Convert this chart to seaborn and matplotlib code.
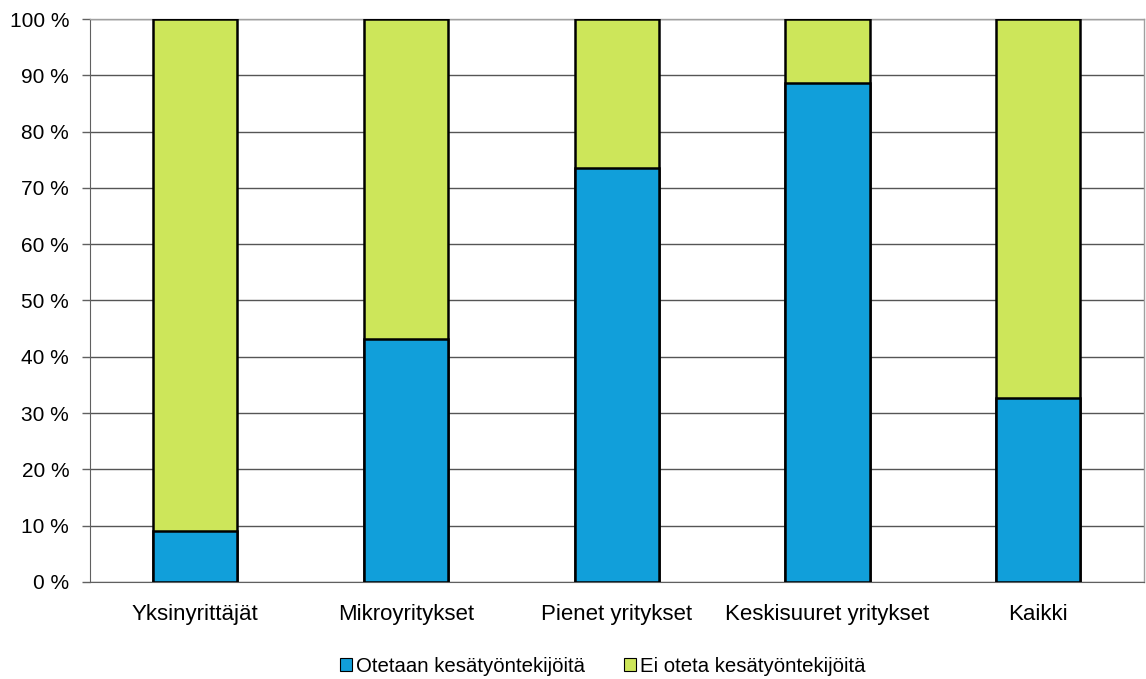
import matplotlib
matplotlib.use("Agg")
import matplotlib.pyplot as plt
import seaborn as sns
import pandas as pd
from matplotlib.patches import Patch

categories = ["Yksinyrittäjät", "Mikroyritykset", "Pienet yritykset", "Keskisuuret yritykset", "Kaikki"]
otetaan = [9.0, 43.2, 73.6, 88.7, 32.7]
ei_oteta = [100 - v for v in otetaan]
series_names = ["Otetaan kesätyöntekijöitä", "Ei oteta kesätyöntekijöitä"]
yticks = [0, 10, 20, 30, 40, 50, 60, 70, 80, 90, 100]
ytick_labels = [f"{t} %" for t in yticks]

blue = "#119fda"
green = "#cde65a"

sns.set_style("white")
plt.rcParams['font.family'] = ['Liberation Sans', 'DejaVu Sans']
plt.rcParams['text.color'] = 'black'
plt.rcParams['xtick.color'] = 'black'
plt.rcParams['ytick.color'] = 'black'

df = pd.DataFrame({"cat": categories, "blue": otetaan,
                   "total": [a + b for a, b in zip(otetaan, ei_oteta)]})

fig = plt.figure(figsize=(11.46, 6.79), dpi=100)
ax = fig.add_axes([0.0785, 0.143, 0.9195, 0.829])

sns.barplot(data=df, x="cat", y="total", color=green, width=0.4, saturation=1,
            edgecolor="black", linewidth=1.8, ax=ax, zorder=3)
sns.barplot(data=df, x="cat", y="blue", color=blue, width=0.4, saturation=1,
            edgecolor="black", linewidth=1.8, ax=ax, zorder=4)

ax.set_ylim(0, 100)
ax.set_xlim(-0.5, 4.5)
ax.set_yticks(yticks)
ax.set_yticklabels(ytick_labels, fontsize=15)
ax.tick_params(axis='x', labelsize=16, length=0, pad=16, labelcolor="black")
ax.tick_params(axis='y', length=6, width=1, color="#606060", pad=9, left=True, labelcolor="black")
ax.set_xlabel("")
ax.set_ylabel("")
ax.yaxis.grid(True, color="#555555", linewidth=1, zorder=0)
ax.set_axisbelow(True)
for s in ["top", "right"]:
    ax.spines[s].set_color("#a0a0a0")
    ax.spines[s].set_linewidth(1)
ax.spines["left"].set_color("#606060")
ax.spines["bottom"].set_color("#606060")

handles = [Patch(facecolor=blue, edgecolor="black", linewidth=0.8),
           Patch(facecolor=green, edgecolor="black", linewidth=0.8)]
fig.legend(handles, series_names, loc="center", bbox_to_anchor=(0.526, 0.019),
           ncol=2, frameon=False, fontsize=14.7, handlelength=0.6, handleheight=0.6,
           handletextpad=0.2, columnspacing=1.9)

fig.savefig("out.png", dpi=100)
